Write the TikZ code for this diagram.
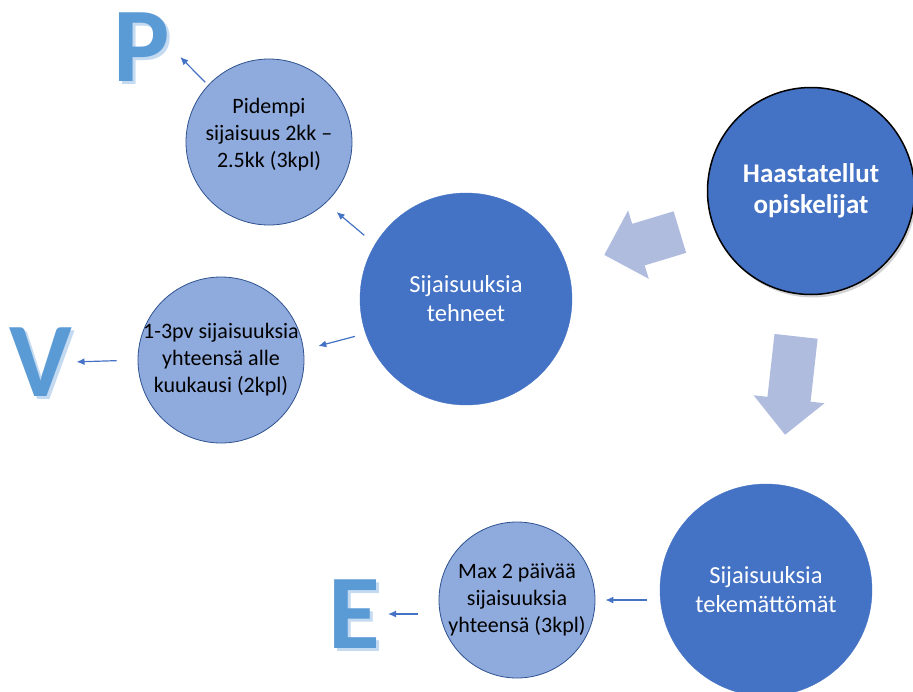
\documentclass[tikz,border=0pt]{standalone}
\usepackage{fontspec}
\setmainfont{Carlito}
\usetikzlibrary{arrows.meta,shapes.arrows,shadows}
\definecolor{darkBlue}{HTML}{4472C4}
\definecolor{lightBlue}{HTML}{8FAADC}
\definecolor{edgeBlue}{HTML}{2F528F}
\definecolor{blockFill}{HTML}{AFBCDE}
\definecolor{letterBlue}{HTML}{5B9BD5}
\definecolor{letterGlow}{HTML}{C4DAF1}
\newcommand{\glowletter}[1]{\rlap{\kern3pt\smash{\raisebox{-3pt}{\textcolor{letterGlow}{#1}}}}#1}
\tikzset{
  base/.style={font=\fontsize{22}{27}\selectfont, text=black},
  group/.style={circle, fill=darkBlue, draw=darkBlue, inner sep=0pt, minimum size=212pt, align=center, text=white, font=\fontsize{24.5}{29}\selectfont},
  root/.style={group, draw=black, line width=1.5pt, minimum size=207pt, font=\bfseries\fontsize{27}{31}\selectfont, drop shadow={shadow xshift=2pt, shadow yshift=-3pt, opacity=0.35}},
  detail/.style={base, circle, fill=lightBlue, draw=edgeBlue, line width=0.8pt, inner sep=-10pt, align=center},
  block/.style={single arrow, fill=blockFill, draw=none, inner xsep=0pt, inner ysep=21.5pt, single arrow head extend=14pt, single arrow tip angle=90, anchor=tip},
  letter/.style={font=\bfseries\fontsize{106}{106}\selectfont, text=letterBlue, inner sep=0pt},
  arrow/.style={-{Latex[length=8pt,width=7pt]}, line width=1.2pt, draw=darkBlue},
}
\begin{document}
\begin{tikzpicture}[x=1pt,y=-1pt]
  \useasboundingbox (0,0) rectangle (913,691);

  \node[block, rotate=196.8, minimum height=79pt] (toleft) at (604,255) {};
  \node[block, rotate=263.6, minimum height=99pt] (todown) at (785,435) {};

  \node[root] (haast) at (811,191) {Haastatellut\\opiskelijat};
  \node[group] (tehneet) at (466,299) {Sijaisuuksia\\tehneet};
  \node[group] (tekem) at (766,590) {Sijaisuuksia\\tekemättömät};

  \node[detail, minimum size=166pt] (pidempi) at (269,142) {Pidempi\\sijaisuus 2kk –\\2.5kk (3kpl)\\[-8pt]};
  \node[detail, minimum size=166pt] (lyhyet) at (221,360) {1-3pv sijaisuuksia\\yhteensä alle\\kuukausi (2kpl)};
  \node[detail, minimum size=156pt] (maxkaksi) at (517,600) {Max 2 päivää\\sijaisuuksia\\yhteensä (3kpl)};

  \node[letter] (P) at (142,47) {\glowletter{P}};
  \node[letter] (V) at (41,362) {\glowletter{V}};
  \node[letter] (E) at (354,614) {\glowletter{E}};

  \draw[arrow, shorten <=14pt, shorten >=14pt] (tehneet.149) -- (pidempi.313);
  \draw[arrow, shorten <=11pt, shorten >=15pt] (tehneet.199) -- (lyhyet.7);
  \draw[arrow, shorten <=4pt, shorten >=14pt] (pidempi.137) -- (P.east);
  \draw[arrow, shorten <=21pt, shorten >=4pt] (lyhyet.west) -- (V.east);
  \draw[arrow, shorten <=21pt, shorten >=8pt] (maxkaksi.west |- E.east) -- (E.east);
  \draw[arrow, shorten <=13pt, shorten >=10pt] (tekem.west |- maxkaksi.east) -- (maxkaksi.east);
\end{tikzpicture}
\end{document}
